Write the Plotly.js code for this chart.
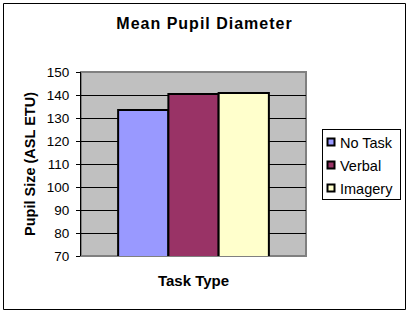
<!DOCTYPE html>
<html>
<head>
<meta charset="utf-8">
<script src="https://cdn.plot.ly/plotly-3.0.1.min.js"></script>
<style>
html,body{margin:0;padding:0;background:#fff;}
#chart{width:409px;height:312px;}
.gtitle{letter-spacing:1px;}
</style>
</head>
<body>
<div id="chart"></div>
<script>
var category = ['Task Type'];
var seriesNames = ['No Task', 'Verbal', 'Imagery'];
var seriesValues = [[133.5], [140.4], [140.9]];
var seriesColors = ['#9999FF', '#993366', '#FFFFCC'];
var yTickVals = [70, 80, 90, 100, 110, 120, 130, 140, 150];

var FONT = 'Arial, "Liberation Sans", sans-serif';

var traces = seriesNames.map(function (name, i) {
  return {
    type: 'bar',
    name: name,
    x: category,
    y: seriesValues[i],
    base: 0,
    marker: {color: seriesColors[i], line: {color: '#000000', width: 2}},
    legendgroup: 'g' + i,
    hoverinfo: 'none'
  };
});

var L = 81, R = 306, T = 72, B = 256, W = 409, H = 312;
function px(x) { return (x - L) / (R - L); }
function py(y) { return (B - y) / (B - T); }

var LEG_L = 322, LEG_T = 129, LEG_W = 78, LEG_H = 70;

var layout = {
  width: W,
  height: H,
  margin: {l: L, r: W - R, t: T, b: H - B, pad: 0, autoexpand: false},
  paper_bgcolor: '#FFFFFF',
  plot_bgcolor: '#C0C0C0',
  font: {family: FONT, color: '#000000', size: 14},
  barmode: 'group',
  bargap: 0.33,
  bargroupgap: 0,
  showlegend: true,
  title: {
    text: '<b>Mean Pupil Diameter</b>',
    font: {family: FONT, size: 16, color: '#000000'},
    x: 0.5, xanchor: 'center',
    y: 1 - 23 / H, yanchor: 'middle'
  },
  xaxis: {
    showticklabels: false,
    ticks: '',
    showgrid: false,
    zeroline: false,
    showline: false,
    title: {text: '<b>Task Type</b>', font: {family: FONT, size: 15}, standoff: 19}
  },
  yaxis: {
    range: [70, 150],
    tickvals: yTickVals,
    ticks: 'outside',
    ticklen: 4,
    tickcolor: '#000000',
    tickwidth: 1,
    ticklabelstandoff: 4,
    showgrid: true,
    gridcolor: '#000000',
    gridwidth: 1,
    zeroline: false,
    showline: true,
    linecolor: '#000000',
    linewidth: 1,
    tickfont: {family: FONT, size: 13.5},
    title: {text: '<b>Pupil Size (ASL ETU)</b>', font: {family: FONT, size: 14.5}, standoff: 7}
  },
  legend: {
    x: px(LEG_L), y: py(LEG_T), xanchor: 'left', yanchor: 'top',
    bgcolor: '#FFFFFF', bordercolor: '#000000', borderwidth: 1,
    font: {family: FONT, size: 14.5},
    itemwidth: 30,
    tracegroupgap: 3,
    traceorder: 'normal'
  },
  shapes: [
    {type: 'rect', xref: 'paper', yref: 'paper', x0: 0, x1: 1, y0: 0, y1: 1,
     line: {color: '#808080', width: 2}, fillcolor: 'rgba(0,0,0,0)', layer: 'below'},
    {type: 'rect', xref: 'paper', yref: 'paper', x0: px(3.5), x1: px(405.5), y0: py(309.5), y1: py(3.5),
     line: {color: '#000000', width: 1}, fillcolor: 'rgba(0,0,0,0)', layer: 'below'}
  ]
};

Plotly.newPlot('chart', traces, layout, {displayModeBar: false, staticPlot: true}).then(function (gd) {
  // compact the legend like the reference (small square keys, tight text)
  var leg = gd.querySelector('.legend');
  if (!leg) return;
  var bg = leg.querySelector('rect.bg');
  if (bg) { bg.setAttribute('width', LEG_W); bg.setAttribute('height', LEG_H); }
  var rows = leg.querySelectorAll('.traces');
  var rowCenters = [13, 36, 59];
  rows.forEach(function (tr, i) {
    var m = /translate\(([-\d.]+)[ ,]+([-\d.]+)\)/.exec(tr.getAttribute('transform') || '');
    var tx = m ? parseFloat(m[1]) : 0;
    tr.setAttribute('transform', 'translate(' + tx + ',' + rowCenters[i] + ')');
    var txt = tr.querySelector('.legendtext');
    if (txt) txt.setAttribute('x', 18 - tx);
    tr.querySelectorAll('.legendpoints path').forEach(function (p) {
      p.setAttribute('d', 'M3.5,3.5H-3.5V-3.5H3.5Z');
      p.setAttribute('transform', 'translate(' + (9 - tx) + ',0)');
      p.style.strokeWidth = '2px';
    });
  });
});
</script>
</body>
</html>
